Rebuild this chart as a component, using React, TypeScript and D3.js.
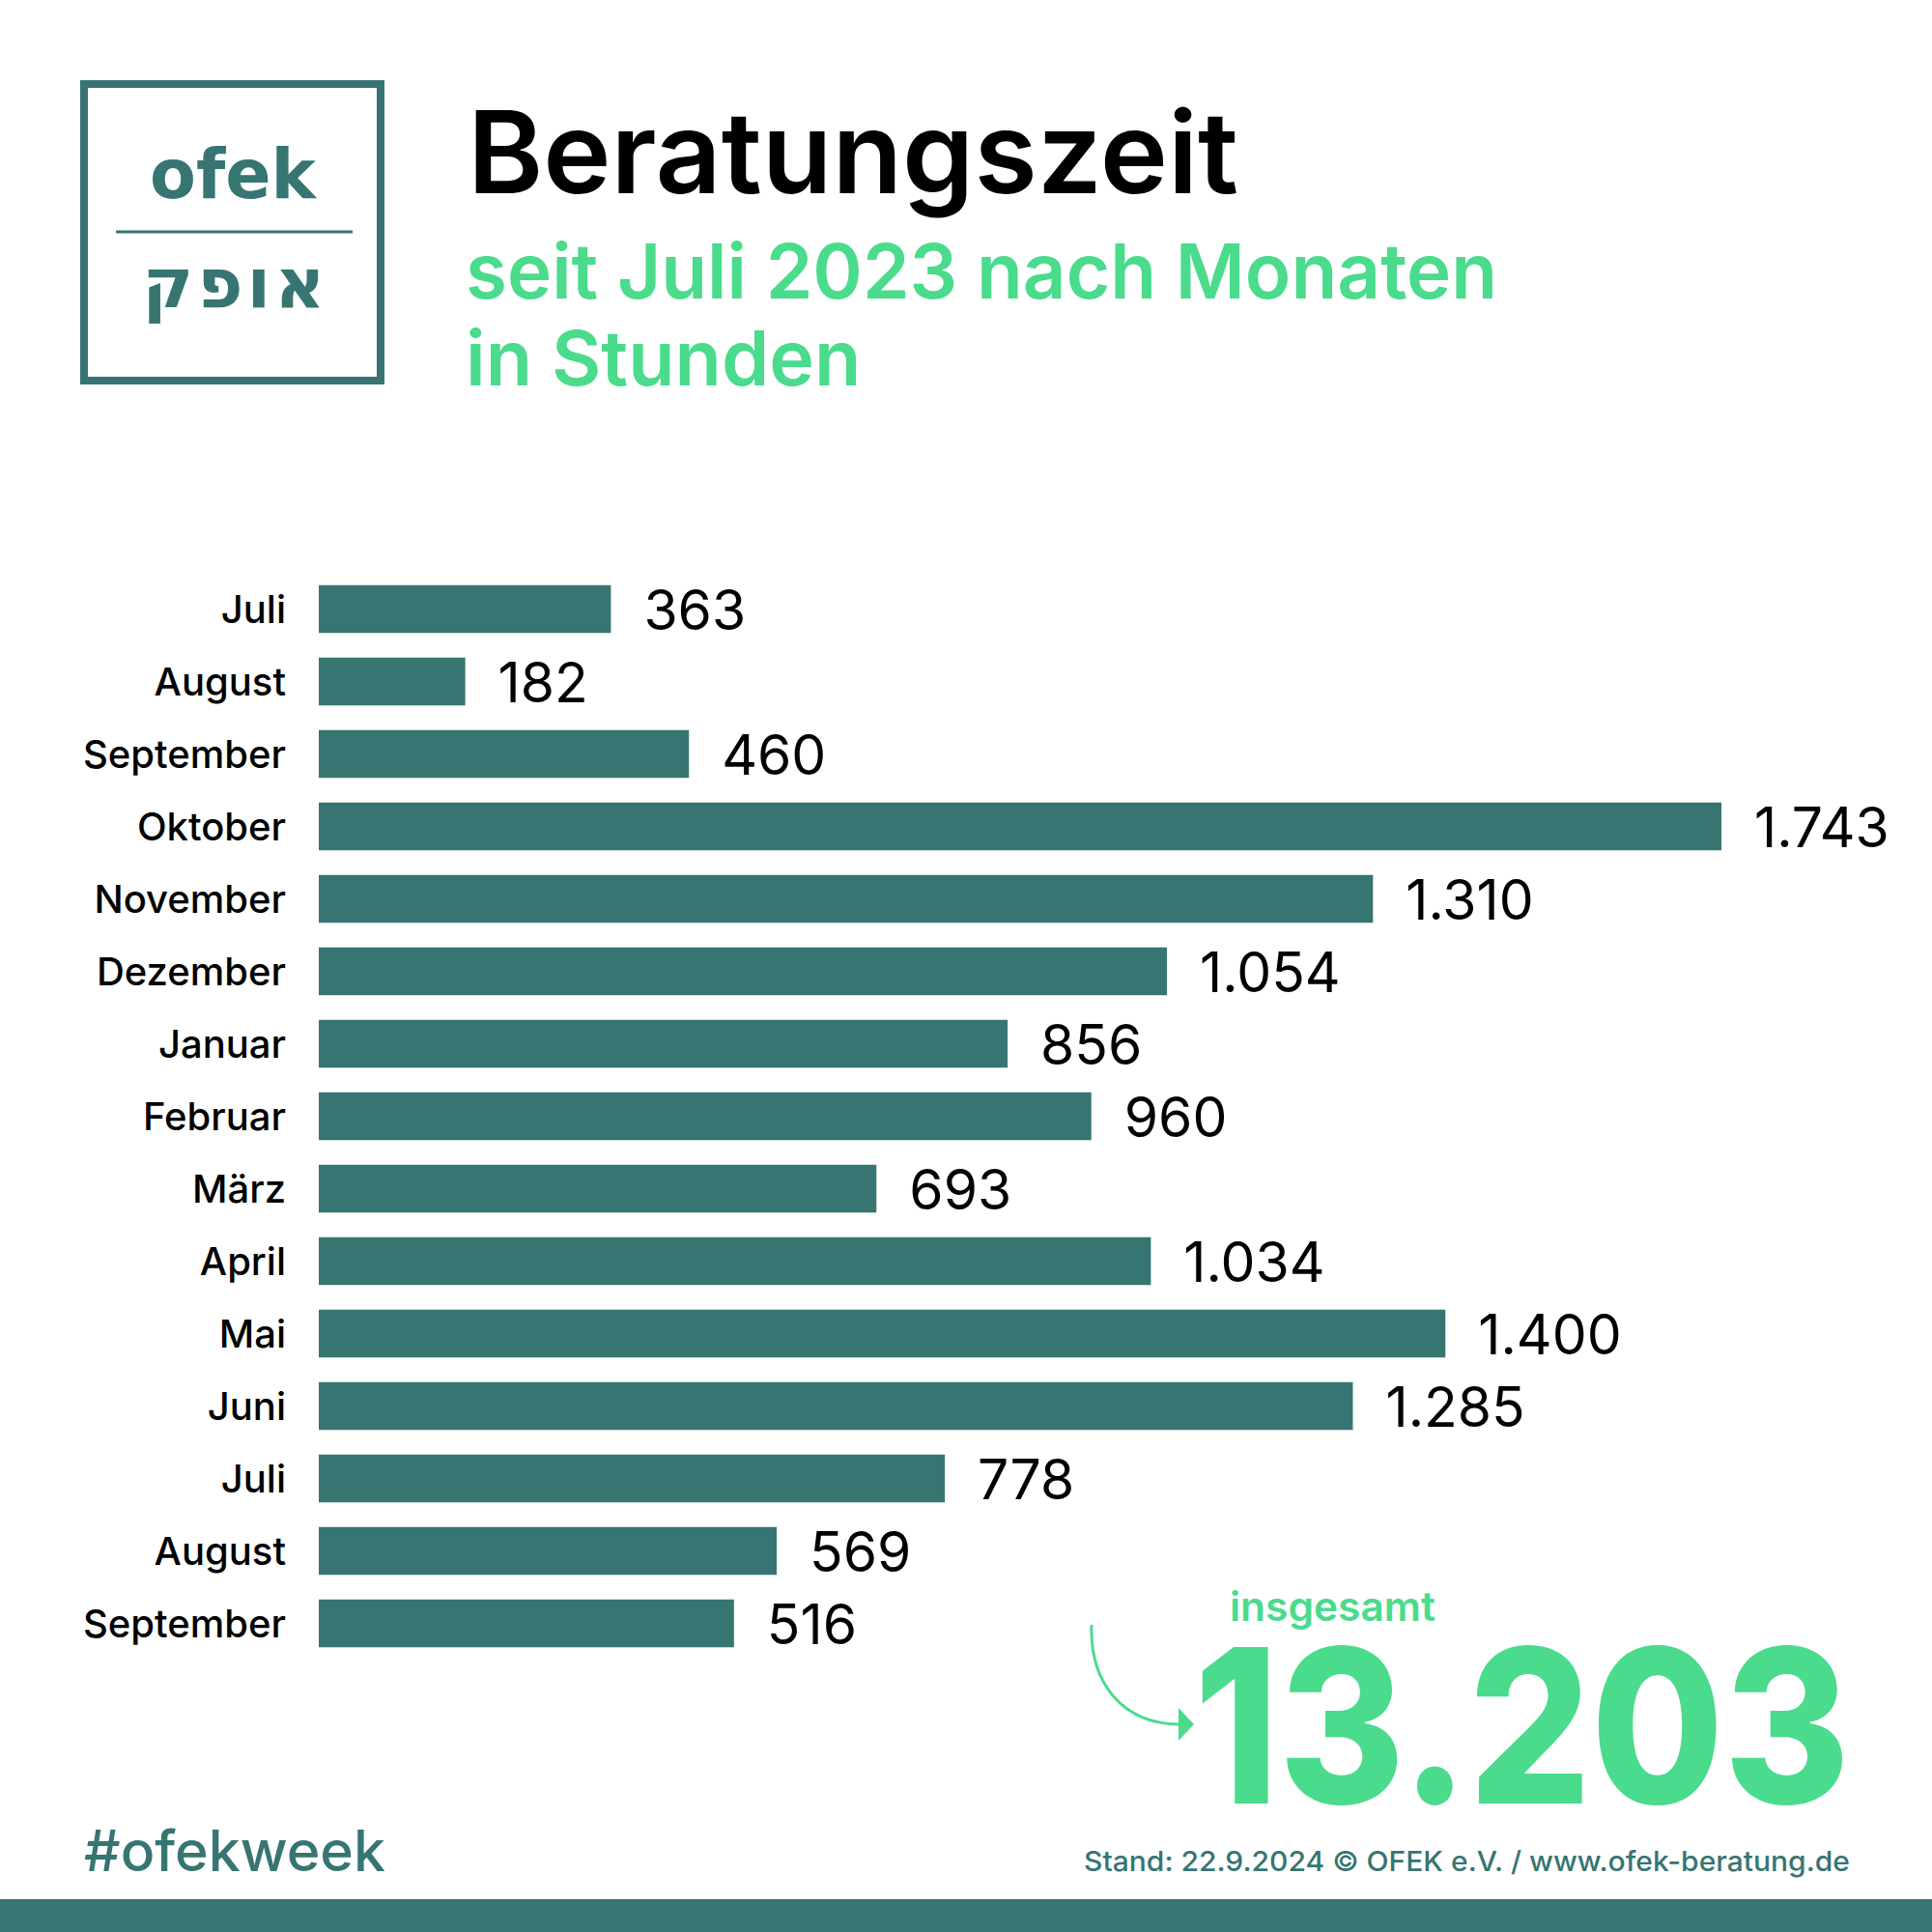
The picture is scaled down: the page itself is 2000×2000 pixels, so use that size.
import React from "react";
import * as d3 from "d3";

const months = ["Juli", "August", "September", "Oktober", "November", "Dezember", "Januar", "Februar", "März", "April", "Mai", "Juni", "Juli", "August", "September"];
const hours = [363, 182, 460, 1743, 1310, 1054, 856, 960, 693, 1034, 1400, 1285, 778, 569, 516];
const totalLabel = "13.203";
const title = "Beratungszeit";
const subtitle1 = "seit Juli 2023 nach Monaten";
const subtitle2 = "in Stunden";
const footer = "Stand: 22.9.2024 © OFEK e.V. / www.ofek-beratung.de";
const hashtag = "#ofekweek";

const TEAL = "#377572";
const GREEN = "#4ADB8C";
const FONT = "Inter, 'Noto Sans', sans-serif";

const de = d3.formatLocale({ decimal: ",", thousands: ".", grouping: [3], currency: ["", "€"] });
const fmt = de.format(",d");

export default function App() {
  const keys = months.map((m, i) => i);
  const x = d3.scaleLinear().domain([0, d3.max(hours) as number]).range([330, 1782]);
  const y = d3.scaleBand<number>().domain(keys).range([593, 1718]).paddingInner(0.34).paddingOuter(0.17);

  return (
    <svg width={2000} height={2000} style={{ position: "absolute", left: 0, top: 0, background: "#fff" }} fontFamily={FONT}>
      <rect x={0} y={0} width={2000} height={2000} fill="#fff" />
      {/* logo */}
      <rect x={87} y={87} width={307} height={307} fill="none" stroke={TEAL} strokeWidth={8} />
      <text x={241} y={205} textAnchor="middle" fontSize={72} fontWeight={800} fill={TEAL} fontFamily="'DejaVu Sans', sans-serif" textLength={172} lengthAdjust="spacingAndGlyphs">ofek</text>
      <line x1={120} x2={365} y1={240} y2={240} stroke={TEAL} strokeWidth={3} />
      <text x={244} y={318} textAnchor="middle" fontSize={72} fontWeight={800} fill={TEAL} fontFamily="'DejaVu Sans', sans-serif" letterSpacing={4}>אופק</text>

      {/* title */}
      <text x={484} y={200} fontSize={118} fontWeight={600} fill="#000" textLength={798} lengthAdjust="spacingAndGlyphs">{title}</text>
      <text x={482} y={309} fontSize={79} fontWeight={600} fill={GREEN} textLength={1068} lengthAdjust="spacingAndGlyphs">{subtitle1}</text>
      <text x={482} y={399} fontSize={79} fontWeight={600} fill={GREEN}>{subtitle2}</text>

      {/* bars */}
      {hours.map((v, i) => (
        <g key={i}>
          <rect x={x(0)} y={y(i)} width={x(v) - x(0)} height={y.bandwidth()} fill={TEAL} />
          <text x={296} y={(y(i) as number) + y.bandwidth() / 2} dy="0.36em" textAnchor="end" fontSize={40} fontWeight={500} fill="#000">{months[i]}</text>
          <text x={x(v) + 34} y={(y(i) as number) + y.bandwidth() / 2} dy="0.37em" fontSize={57} fontWeight={400} fill="#000">{fmt(v)}</text>
        </g>
      ))}

      {/* total */}
      <text x={1273} y={1678} fontSize={42} fontWeight={600} fill={GREEN} textLength={213} lengthAdjust="spacingAndGlyphs">insgesamt</text>
      <text x={1236} y={1867} fontSize={222} fontWeight={800} fill={GREEN} textLength={679} lengthAdjust="spacingAndGlyphs">{totalLabel}</text>
      <path d="M1130,1682 C1128,1740 1160,1785 1222,1785" fill="none" stroke={GREEN} strokeWidth={3} />
      <path d="M1220,1768 L1236,1785 L1220,1802 Z" fill={GREEN} />

      {/* footer */}
      <text x={87} y={1937} fontSize={59} fontWeight={500} fill={TEAL}>{hashtag}</text>
      <text x={1122} y={1937} fontSize={29} fontWeight={500} fill={TEAL} textLength={793} lengthAdjust="spacingAndGlyphs">{footer}</text>
      <rect x={0} y={1966} width={2000} height={34} fill={TEAL} />
    </svg>
  );
}
